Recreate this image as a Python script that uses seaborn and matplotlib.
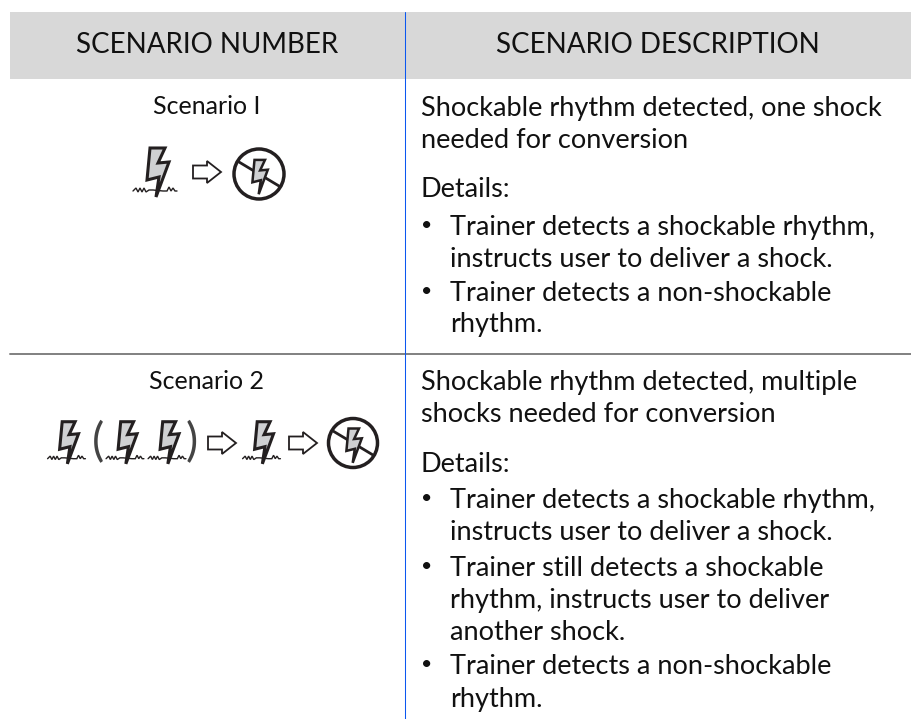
import numpy as np
import matplotlib
matplotlib.use("Agg")
import matplotlib.pyplot as plt
from matplotlib.patches import Circle, Polygon, Rectangle
from matplotlib.lines import Line2D
import seaborn as sns

headers = ["SCENARIO NUMBER", "SCENARIO DESCRIPTION"]
scenario_names = ["Scenario I", "Scenario 2"]
s1_summary = ["Shockable rhythm detected, one shock", "needed for conversion"]
s2_summary = ["Shockable rhythm detected, multiple", "shocks needed for conversion"]
details = "Details:"
s1_bullets = [["Trainer detects a shockable rhythm,", "instructs user to deliver a shock."],
              ["Trainer detects a non-shockable", "rhythm."]]
s2_bullets = [["Trainer detects a shockable rhythm,", "instructs user to deliver a shock."],
              ["Trainer still detects a shockable", "rhythm, instructs user to deliver", "another shock."],
              ["Trainer detects a non-shockable", "rhythm."]]

sns.set_theme(style="white")
plt.rcParams["font.family"] = ["Lato", "DejaVu Sans"]
INK = "#231f20"
TEXT = "#111111"
fig = plt.figure(figsize=(9.12, 7.19), dpi=100)
ax = fig.add_axes([0, 0, 1, 1])
ax.set_xlim(0, 912)
ax.set_ylim(719, 0)
ax.axis("off")

ax.add_patch(Rectangle((10, 12), 902, 67, fc="#d8d8d8", ec="none", zorder=1))
ax.add_line(Line2D([10, 912], [354, 354], color="#808080", lw=1.4, zorder=2))
ax.add_line(Line2D([405.5, 405.5], [12, 719], color="#0b57f0", lw=0.75, zorder=3))

BOLT = np.array([[-5, -48], [10, -48], [3, -33], [14, -34], [1, 1], [4, -19], [-8, -16]], float)
NOISE = np.array([[-22, -5], [-19, -8], [-17, -4], [-15, -8], [-13, -4], [-11, -8], [-9, -4],
                  [-6, -6], [-2, -6], [8, -5], [12, -5], [14, -9], [16, -5], [18, -8], [20, -5], [22, -5]], float)
ARROW = np.array([[0, -6.5], [14, -6.5], [14, -11], [28, 0], [14, 11], [14, 6.5], [0, 6.5]], float)


def bolt(cx, base, s=1.0, noise=True, lw=2.2):
    pts = BOLT * s + [cx, base]
    if noise:
        n = NOISE * s + [cx, base]
        ax.plot(n[:, 0], n[:, 1], color=INK, lw=1.0, zorder=4, solid_joinstyle="miter")
    ax.add_patch(Polygon(pts, closed=True, fc="#cfd0d2", ec=INK, lw=lw, joinstyle="miter", zorder=5))


def arrow(x, cy):
    ax.add_patch(Polygon(ARROW + [x, cy], closed=True, fc="white", ec=INK, lw=1.3, joinstyle="miter", zorder=5))


def no_shock(cx, cy, r):
    ax.add_patch(Circle((cx, cy), r, fc="white", ec=INK, lw=2.5, zorder=4))
    d = r * 0.8
    ax.plot([cx - d, cx + d], [cy - d * 0.6, cy + d * 0.6], color=INK, lw=2.0, zorder=5)
    bolt(cx - 1, cy + r * 0.78, s=0.7, noise=False, lw=1.8)


def txt(x, y, s, size=19.5, ha="left"):
    ax.text(x, y, s, fontsize=size, ha=ha, va="baseline", color=TEXT, zorder=6)


def body(summary, bullets, y_sum, y_det, y_bul):
    for s, y in zip(summary, y_sum):
        txt(421, y, s)
    txt(421, y_det, details)
    i = 0
    for item in bullets:
        txt(427, y_bul[i] - 3.6, "•", size=14, ha="center")
        for line in item:
            txt(450, y_bul[i], line)
            i += 1


txt(207, 53, headers[0], size=20, ha="center")
txt(658, 53, headers[1], size=20, ha="center")
txt(207, 114, scenario_names[0], size=18, ha="center")
txt(207, 389, scenario_names[1], size=18, ha="center")

body(s1_summary, s1_bullets, [116, 148], 197, [235, 267, 301, 332])
body(s2_summary, s2_bullets, [390, 422], 472, [508, 540, 576, 608, 640, 674, 707])

bolt(155, 196)
arrow(193, 172)
no_shock(259, 174, 25)

for c in [66.5, 125, 167, 261.5]:
    bolt(c, 463, s=0.86)
arrow(208, 443)
arrow(289, 443)
no_shock(353, 443, 24.5)
ax.text(98, 456, "(", fontsize=33, ha="center", va="baseline", color="#444444", zorder=6)
ax.text(192, 456, ")", fontsize=33, ha="center", va="baseline", color="#444444", zorder=6)

fig.savefig("out.png", dpi=100)
